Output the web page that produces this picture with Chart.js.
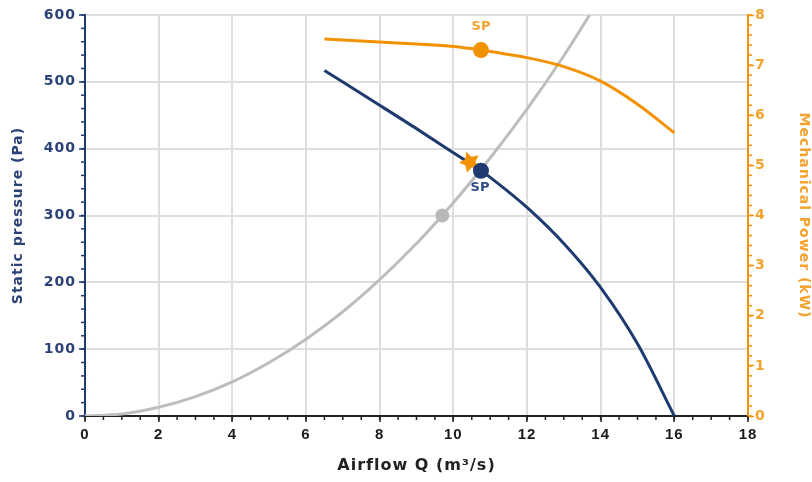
<!DOCTYPE html>
<html>
<head>
<meta charset="utf-8">
<script src="https://cdn.jsdelivr.net/npm/chart.js@4.4.1/dist/chart.umd.min.js"></script>
<style>
  body { margin: 0; background: #fff; }
  #wrap { width: 812px; height: 482px; }
</style>
</head>
<body>
<div id="wrap"><canvas id="fanChart"></canvas></div>
<script>
// fan curve - static pressure (Pa) vs airflow (m3/s)
const fanQ = [6.5, 8, 9, 10, 10.75, 11, 12, 13, 14, 15, 16];
const fanP = [517, 465, 430, 394, 367, 357, 312, 258, 192, 108, 0];

// mechanical power (kW)
const powerQ = [6.5, 8, 9, 10, 10.75, 11, 12, 13, 14, 15, 16];
const powerKW = [7.52, 7.46, 7.42, 7.37, 7.3, 7.27, 7.15, 6.97, 6.68, 6.22, 5.65];

// system curve
const systemQ = [0, 1, 2, 3, 4, 5, 6, 7, 8, 9, 9.7, 10, 11, 12, 13, 13.7];
const systemP = [0, 3, 13, 29, 51, 80, 115, 156, 204, 258, 300, 319, 386, 459, 539, 600];

// marked points
const spQ = [10.75];
const spP = [367];
const spKW = [7.3];
const sysPointQ = [9.7];
const sysPointP = [300];
const starQ = [10.45];
const starP = [380];

// axis ticks
const xTicks = [0, 2, 4, 6, 8, 10, 12, 14, 16, 18];
const pTicks = [0, 100, 200, 300, 400, 500, 600];
const kwTicks = [0, 1, 2, 3, 4, 5, 6, 7, 8];

const NAVY = '#1e3a6e';
const NAVY_TEXT = '#2b4177';
const ORANGE = '#f39200';
const ORANGE_TEXT = '#f5a32e';
const GREY = '#bdbdbd';

function pts(xs, ys) {
    return xs.map((v, i) => ({ x: v, y: ys[i] }));
}

// filled 5 point star for the orange marker
function makeStar(size, color) {
    const c = document.createElement('canvas');
    c.width = size;
    c.height = size;
    const g = c.getContext('2d');
    const r = size / 2, ri = r * 0.5;
    g.beginPath();
    for (let i = 0; i < 10; i++) {
        const rad = i % 2 ? ri : r;
        const a = -Math.PI / 2 - 0.35 + i * Math.PI / 5;
        g.lineTo(r + rad * Math.cos(a), r + rad * Math.sin(a));
    }
    g.closePath();
    g.fillStyle = color;
    g.fill();
    return c;
}

// a little letter spacing for the axis texts only
const spacedText = {
    id: 'spacedText',
    beforeDraw(chart) { chart.ctx.letterSpacing = '1px'; },
    beforeDatasetsDraw(chart) { chart.ctx.letterSpacing = '0px'; }
};

// small ticks between the labelled ones
const minorTicks = {
    id: 'minorTicks',
    beforeDatasetsDraw(chart) {
        const ctx = chart.ctx;
        const { x, y, y2 } = chart.scales;
        ctx.save();
        ctx.lineWidth = 1.5;
        const tick = (x1, y1, x2, y2_) => {
            ctx.beginPath();
            ctx.moveTo(x1, y1);
            ctx.lineTo(x2, y2_);
            ctx.stroke();
        };
        ctx.strokeStyle = '#222';
        for (let i = 0; i <= 36; i++) {
            const px = x.getPixelForValue(i * 0.5);
            tick(px, x.top, px, x.top + 4);
        }
        ctx.strokeStyle = NAVY;
        for (let i = 0; i <= 30; i++) {
            const py = y.getPixelForValue(i * 20);
            tick(y.right - 4, py, y.right, py);
        }
        ctx.strokeStyle = ORANGE;
        for (let i = 0; i <= 40; i++) {
            const py = y2.getPixelForValue(i * 0.2);
            tick(y2.left, py, y2.left + 4, py);
        }
        ctx.restore();
    }
};

// "SP" captions next to the operating points
const spLabels = {
    id: 'spLabels',
    afterDatasetsDraw(chart) {
        const ctx = chart.ctx;
        const blue = chart.getDatasetMeta(5).data[0];
        const orange = chart.getDatasetMeta(6).data[0];
        ctx.save();
        ctx.font = 'bold 13px "DejaVu Sans"';
        ctx.textAlign = 'center';
        ctx.textBaseline = 'middle';
        ctx.fillStyle = '#2b4a8a';
        ctx.fillText('SP', blue.x - 1, blue.y + 17);
        ctx.fillStyle = ORANGE_TEXT;
        ctx.fillText('SP', orange.x, orange.y - 23);
        ctx.restore();
    }
};

Chart.defaults.font.family = '"DejaVu Sans", Verdana, sans-serif';

const ctx = document.getElementById('fanChart').getContext('2d');
new Chart(ctx, {
    type: 'scatter',
    data: {
        datasets: [
            {
                data: pts(systemQ, systemP), showLine: true, borderColor: GREY, borderWidth: 3,
                pointRadius: 0, cubicInterpolationMode: 'monotone', yAxisID: 'y', order: 7
            },
            {
                data: pts(fanQ, fanP), showLine: true, borderColor: NAVY, borderWidth: 3,
                pointRadius: 0, cubicInterpolationMode: 'monotone', yAxisID: 'y', order: 6
            },
            {
                data: pts(powerQ, powerKW), showLine: true, borderColor: ORANGE, borderWidth: 3,
                pointRadius: 0, cubicInterpolationMode: 'monotone', yAxisID: 'y2', order: 5
            },
            {
                data: pts(sysPointQ, sysPointP), pointRadius: 7, pointBackgroundColor: '#b8b8b8',
                pointBorderWidth: 0, yAxisID: 'y', order: 4
            },
            {
                data: pts(starQ, starP), pointStyle: makeStar(22, ORANGE), yAxisID: 'y', order: 3
            },
            {
                data: pts(spQ, spP), pointRadius: 8, pointBackgroundColor: NAVY,
                pointBorderWidth: 0, yAxisID: 'y', order: 2
            },
            {
                data: pts(spQ, spKW), pointRadius: 8, pointBackgroundColor: ORANGE,
                pointBorderWidth: 0, yAxisID: 'y2', order: 1
            }
        ]
    },
    options: {
        responsive: true,
        maintainAspectRatio: false,
        animation: false,
        layout: { padding: { top: 15, left: 0, right: 0, bottom: 0 } },
        plugins: { legend: { display: false }, tooltip: { enabled: false } },
        scales: {
            x: {
                type: 'linear',
                min: 0,
                max: 18,
                afterBuildTicks: s => { s.ticks = xTicks.map(v => ({ value: v })); },
                afterFit: s => { s.height = 66; },
                ticks: {
                    color: '#1a1a1a', padding: 4, maxRotation: 0,
                    font: { family: '"Liberation Sans", Arial, sans-serif', size: 15, weight: 'bold' }
                },
                grid: { color: '#dedede', lineWidth: 2, tickColor: '#222', tickLength: 6, tickWidth: 1.5 },
                border: { color: '#222', width: 2 },
                title: {
                    display: true, text: 'Airflow Q (m³/s)', color: '#222',
                    font: { size: 16, weight: 'bold' }, padding: { top: 0, bottom: 7 }
                }
            },
            y: {
                position: 'left',
                min: 0,
                max: 600,
                afterBuildTicks: s => { s.ticks = pTicks.map(v => ({ value: v })); },
                afterFit: s => { s.width = 85; },
                ticks: { color: NAVY_TEXT, padding: 3, font: { size: 14, weight: 'bold' } },
                grid: { color: '#dedede', lineWidth: 2, tickColor: NAVY, tickLength: 6, tickWidth: 1.5 },
                border: { color: NAVY, width: 2 },
                title: {
                    display: true, text: 'Static pressure (Pa)', color: NAVY_TEXT,
                    font: { size: 14, weight: 'bold' }, padding: { top: 10, bottom: 0 }
                }
            },
            y2: {
                position: 'right',
                min: 0,
                max: 8,
                afterBuildTicks: s => { s.ticks = kwTicks.map(v => ({ value: v })); },
                afterFit: s => { s.width = 64; },
                ticks: { color: ORANGE_TEXT, padding: 1, font: { size: 14, weight: 'bold' } },
                grid: { drawOnChartArea: false, tickColor: ORANGE, tickLength: 6, tickWidth: 1.5 },
                border: { color: ORANGE, width: 2 },
                title: {
                    display: true, text: 'Mechanical Power (kW)', color: ORANGE_TEXT,
                    font: { size: 14, weight: 'bold' }, padding: 0
                }
            }
        }
    },
    plugins: [spacedText, minorTicks, spLabels]
});
</script>
</body>
</html>
